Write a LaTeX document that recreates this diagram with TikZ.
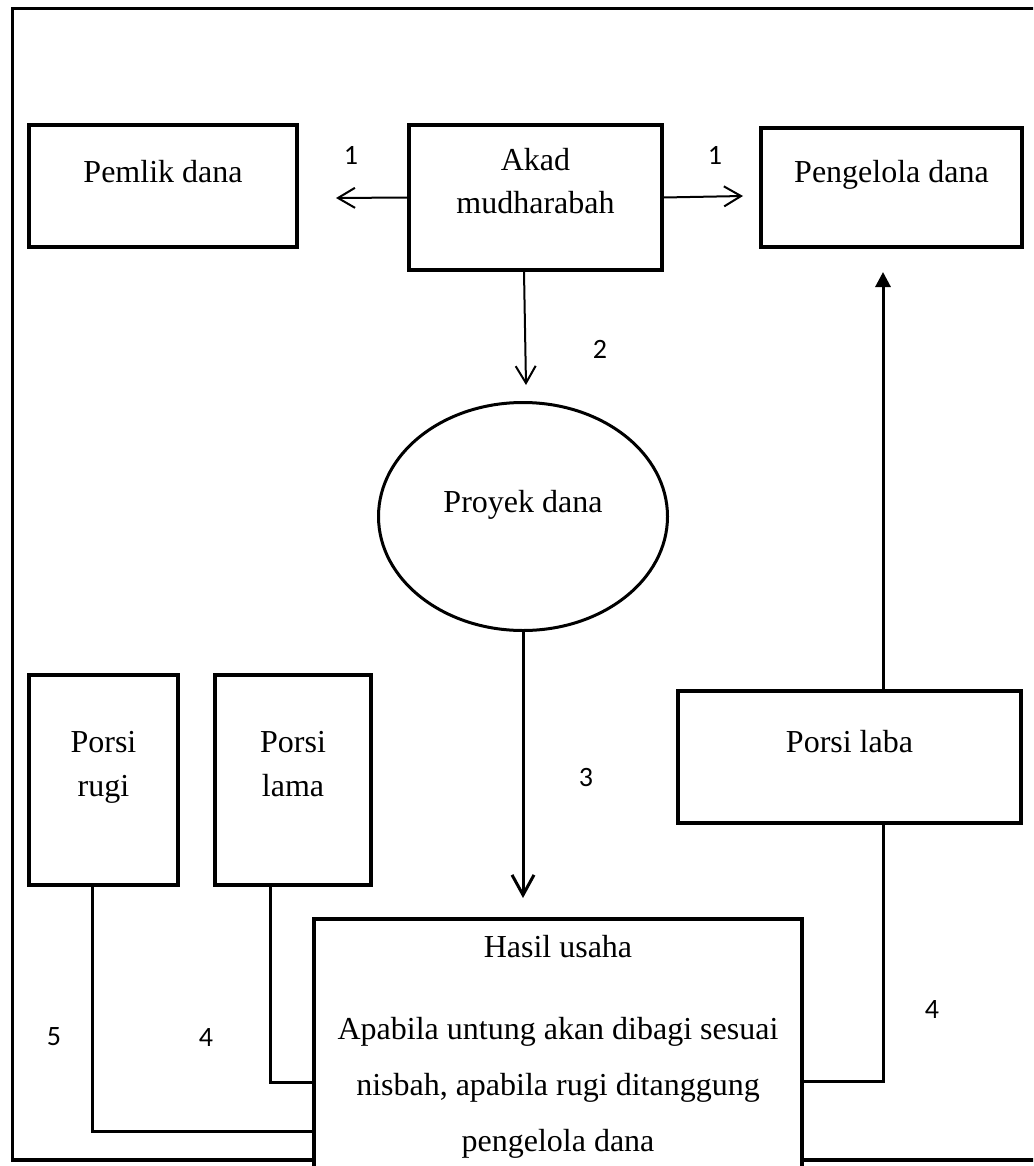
\documentclass[tikz,border=0pt]{standalone}
\usepackage{fontspec}
\setmainfont{Liberation Serif}
\newfontfamily\numfont{Carlito}
\usetikzlibrary{arrows.meta,shapes.geometric}
% #1 width, #2 height, #3 first baseline from top, #4 line skip, #5 text
\newcommand{\boxtxt}[5]{\parbox[c][#2pt][t]{#1pt}{\centering\fontsize{32}{#4}\selectfont\rule{0pt}{#3pt}#5}}
\tikzset{
  box/.style={draw, rectangle, line width=3.5pt, fill=white, inner sep=0pt},
  conn/.style={line width=3pt},
  thinconn/.style={line width=2pt},
  num/.style={font=\numfont\fontsize{28}{28}\selectfont, inner sep=0pt},
  smallbarb/.style={-{Straight Barb[length=17pt,width=20pt]}},
  bigbarb/.style={-{Straight Barb[length=20pt,width=22pt]}},
  filledtip/.style={-{Triangle[length=15pt,width=15pt]}}
}
\begin{document}
\begin{tikzpicture}[x=1pt,y=-1pt]
\useasboundingbox (0,0) rectangle (1033,1166);
\fill[white] (0,0) rectangle (1033,1166);
\clip (0,0) rectangle (1033,1166);

% outer frame
\draw[line width=3.3pt] (12.5,8.5) rectangle (1045,1160);

% boxes
\node[box] (pemilik) at (163,186) {\boxtxt{268}{122}{58}{43}{Pemlik dana}};
\node[box] (akad) at (535.5,197.5) {\boxtxt{253}{145}{46}{43}{Akad\\mudharabah}};
\node[box] (pengelola) at (891.5,187.5) {\boxtxt{261}{119}{55}{43}{Pengelola dana}};
\node[draw, ellipse, line width=3pt, fill=white, inner sep=0pt,
      minimum width=289pt, minimum height=228pt,
      font=\fontsize{32}{43}\selectfont, text height=10pt, text depth=18pt]
      (proyek) at (523,516.5) {Proyek dana};
\node[box] (rugi) at (103.5,780) {\boxtxt{149}{210}{77}{44}{Porsi\\rugi}};
\node[box] (lama) at (293,780) {\boxtxt{156}{210}{77}{44}{Porsi\\lama}};
\node[box] (laba) at (849.5,757) {\boxtxt{343}{132}{61}{43}{Porsi laba}};
\node[box] (hasil) at (558,1059.5) {\boxtxt{488}{281}{38}{56}{Hasil usaha\\[26pt]Apabila untung akan dibagi sesuai\\nisbah, apabila rugi ditanggung\\pengelola dana}};

% free arrow ends
\coordinate (tipA) at (336,198);
\coordinate (tipB) at (743,196);
\coordinate (tipC) at (526,385);
\coordinate (tipD) at (523,898);
\coordinate (tipE) at (883,272);

% connectors
\draw[thinconn, smallbarb] (akad.west) -- (tipA);
\draw[thinconn, smallbarb] (akad.east) -- (tipB);
\draw[thinconn, smallbarb] ([xshift=-11.5pt]akad.south) -- (tipC);
\draw[conn, bigbarb] (proyek.south) -- (tipD);
\draw[conn, filledtip] ([xshift=33.5pt]laba.north) -- (tipE);
\draw[conn] ([xshift=33.5pt]laba.south) |- (hasil.east |- 0,1081);
\draw[conn] ([xshift=-11.5pt]rugi.south) |- (hasil.west |- 0,1131);
\draw[conn] ([xshift=-23pt]lama.south) |- (hasil.west |- 0,1082);

% labels
\node[num] (l1a) at (351,155) {1};
\node[num] (l1b) at (715,155) {1};
\node[num] (l2) at (600,349.5) {2};
\node[num] (l3) at (586,778) {3};
\node[num] (l5) at (54,1037) {5};
\node[num] (l4a) at (206,1037) {4};
\node[num] (l4b) at (932,1009) {4};
\end{tikzpicture}
\end{document}
